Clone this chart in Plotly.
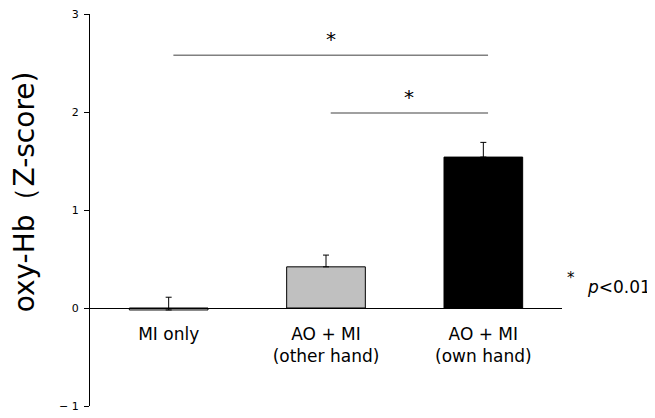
import plotly.graph_objects as go

# ── Data ──────────────────────────────────────────────────────────────────────
conditions = ["MI only", "AO + MI<br>(other hand)", "AO + MI<br>(own hand)"]
means      = [-0.02, 0.42, 1.54]
sem        = [0.13, 0.12, 0.15]
bar_colors = ["#ffffff", "#c0c0c0", "#000000"]

# significance brackets: (from index, to index, height)
sig_from   = [0, 1]
sig_to     = [2, 2]
sig_height = [2.58, 1.99]

_FONT = "DejaVu Sans, Verdana, sans-serif"
_GREY = "#808080"

fig = go.Figure()

fig.add_trace(go.Bar(
    x=conditions,
    y=means,
    width=0.5,
    marker=dict(color=bar_colors, line=dict(color="#000000", width=1)),
    error_y=dict(
        type="data", symmetric=False, array=sem, arrayminus=[0] * len(sem),
        color="#000000", thickness=1, width=3,
    ),
    showlegend=False,
))

shapes, annotations = [], []
for a, b, h in zip(sig_from, sig_to, sig_height):
    shapes.append(dict(
        type="line", xref="x", yref="y",
        x0=a + 0.03, x1=b + 0.03, y0=h, y1=h,
        line=dict(color=_GREY, width=1.5),
    ))
    annotations.append(dict(
        x=(a + b) / 2 + 0.03, y=h, xref="x", yref="y",
        text="*", showarrow=False, yanchor="bottom", yshift=2,
        font=dict(family=_FONT, size=20, color="#000000"),
    ))

# p-value note, right of the plot
annotations.append(dict(
    x=1.0, y=0.31, xref="paper", yref="y", text="*",
    showarrow=False, xanchor="left", xshift=3,
    font=dict(family=_FONT, size=15, color="#000000"),
))
annotations.append(dict(
    x=1.0, y=0.21, xref="paper", yref="y", text="<i>p</i><0.01",
    showarrow=False, xanchor="right", xshift=91,
    font=dict(family=_FONT, size=17, color="#000000"),
))

# y-axis title (rotated), sits a bit above the plot centre like the original
annotations.append(dict(
    x=0, y=0.545, xref="paper", yref="paper", text="oxy-Hb（Z-score)",
    showarrow=False, textangle=-90, xanchor="center", xshift=-66,
    font=dict(family=_FONT, size=28, color="#000000"),
))

# page body adds an 8px offset, so the figure is drawn 8px smaller
fig.update_layout(
    width=647, height=410,
    margin=dict(l=82, r=93, t=6, b=12),
    plot_bgcolor="#ffffff",
    paper_bgcolor="#ffffff",
    font=dict(family=_FONT, color="#000000"),
    xaxis=dict(
        range=[-0.5, 2.5],
        anchor="free", position=0.25,
        showline=True, linecolor="#000000", linewidth=1.2,
        ticks="", showgrid=False, zeroline=False,
        tickfont=dict(size=17), ticklabelstandoff=10,
        automargin=False,
    ),
    yaxis=dict(
        range=[-1, 3],
        tickvals=[-1, 0, 1, 2, 3],
        ticktext=["− 1", "0", "1", "2", "3"],
        ticks="outside", ticklen=5, tickcolor="#000000",
        showline=True, linecolor="#000000", linewidth=1.2,
        showgrid=False, zeroline=False,
        tickfont=dict(size=11), ticklabelstandoff=3,
        ticklabeloverflow="allow",
        automargin=False,
    ),
    shapes=shapes,
    annotations=annotations,
)

fig.write_html("out.html")
